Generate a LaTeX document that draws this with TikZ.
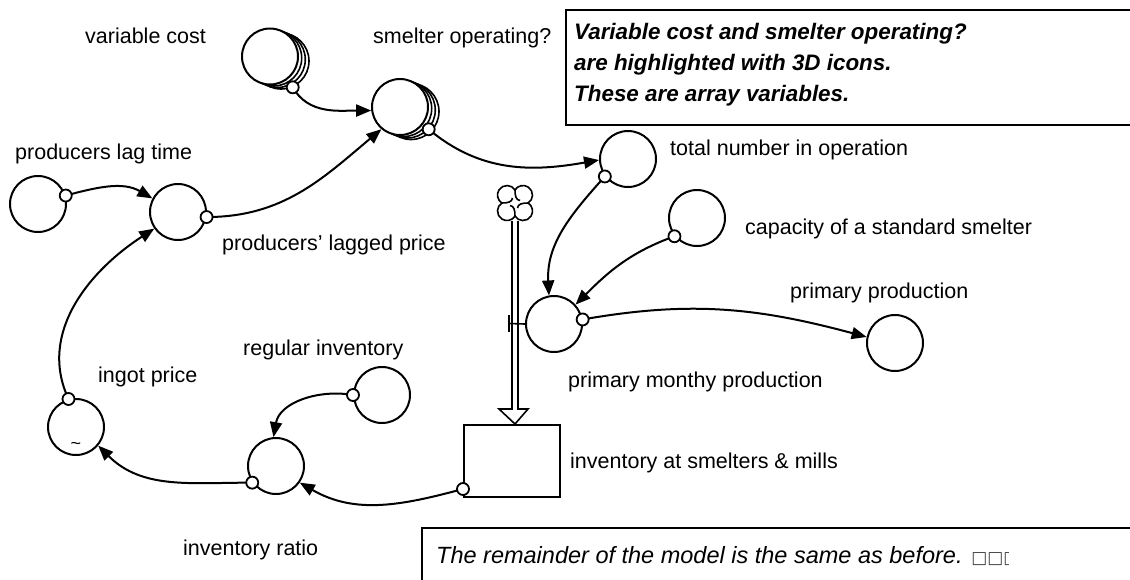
\documentclass[tikz,border=0pt]{standalone}
\usepackage{fontspec}
\setmainfont{Liberation Sans}
\newfontfamily\symfont{DejaVu Sans}
\usetikzlibrary{arrows.meta,calc}

\begin{document}
\begin{tikzpicture}[x=1pt,y=-1pt,
  every node/.style={font=\fontsize{21.5}{26}\selectfont},
  conv/.style={circle,draw,line width=2pt,minimum size=56pt,inner sep=0pt,fill=white},
  ghost/.style={circle,draw,line width=1.6pt,minimum size=56pt,inner sep=0pt,fill=white},
  lbl/.style={anchor=base west,inner sep=0pt},
  note/.style={lbl,font=\fontsize{22.4}{26}\selectfont\bfseries\itshape},
  link/.style={line width=2pt,-{Triangle[length=15pt,width=12pt]}},
  tap/.style={circle,draw,line width=1.8pt,fill=white,minimum size=12pt,inner sep=0pt},
  pipe/.style={line width=1.6pt},
]
\useasboundingbox (0,0) rectangle (1130,579);

% note boxes (run past the right edge)
\draw[line width=2pt] (566,10) rectangle (1150,125);
\draw[line width=2pt] (422,528) rectangle (1150,600);
\node[note] (note1) at (574,39)  {Variable cost and smelter operating?};
\node[note] (note2) at (574,70)  {are highlighted with 3D icons.};
\node[note] (note3) at (574,101) {These are array variables.};
\begin{scope}
  \clip (424,530) rectangle (1008,579);
  \node[lbl,font=\fontsize{23.5}{28}\selectfont\itshape] (note4) at (436,563)
    {The remainder of the model is the same as before. {\symfont\fontsize{17}{17}\selectfont\color{black!75}□□□}};
\end{scope}

% array converters (stacked copies behind the front circle)
\node[ghost] (vcC) at (281,61) {};
\node[ghost] (vcB) at (277.3,59.5) {};
\node[ghost] (vcA) at (273.7,58) {};
\node[conv]  (vc)  at (270,56.5) {};
\node[ghost] (smC) at (411,111.5) {};
\node[ghost] (smB) at (407.3,110) {};
\node[ghost] (smA) at (403.7,108.5) {};
\node[conv]  (sm)  at (400,107) {};

% converters
\node[conv] (lt)  at (38,204) {};
\node[conv] (lp)  at (178,212) {};
\node[conv] (tot) at (628,159) {};
\node[conv] (cap) at (697,218) {};
\node[conv] (pmp) at (554,324) {};
\node[conv] (pp)  at (895,343) {};
\node[conv] (ri)  at (382,395) {};
\node[conv] (ig)  at (76,427) {};
\node[conv] (ir)  at (276,466) {};
\node[inner sep=0pt,font=\fontsize{18}{18}\selectfont] (tilde) at (76,446) {\textasciitilde};

% stock
\node[draw,line width=2pt,minimum width=96pt,minimum height=72pt,inner sep=0pt] (inv) at (512,461) {};
\coordinate (invtap) at (463,489);

% source cloud: four lobes with a pinwheel of inner curls
\node[minimum size=36pt,inner sep=0pt] (cloud) at (515,203) {};
\begin{scope}[shift={(cloud)},x=1pt,y=1pt,line width=1.6pt]
  \draw[fill=white] (0,13.1) arc[start angle=147.4,end angle=-57.4,radius=9.5pt]
    arc[start angle=57.4,end angle=-147.4,radius=9.5pt]
    arc[start angle=-32.6,end angle=-237.4,radius=9.5pt]
    arc[start angle=237.4,end angle=32.6,radius=9.5pt] -- cycle;
  \foreach \a in {0,90,180,270}
    \draw[rotate=\a] (0,13.1) .. controls (0,7) and (1,3) .. (5,2.5);
\end{scope}

% flow pipe into the stock
\draw[pipe] ($(cloud)+(-3,18)$) -- ($(inv.north)+(0,-15)$) -- ($(inv.north)+(-13,-15)$)
  -- ($(inv.north)+(3,0)$) -- ($(inv.north)+(16,-15)$) -- ($(inv.north)+(6,-15)$) -- ($(cloud)+(3,18)$);
% hook from the flow to primary monthy production
\draw[pipe] (509,315) -- (509,332);
\draw[pipe] (509,323.5) -- (pmp.west);

% connectors
\draw[link] (lt.17)  to[out=15,in=150]   (lp.152);
\draw[link] (lp.-10) to[out=0,in=220]    (sm.230);
\draw[link] (vcC.-66) to[out=-60,in=180] (sm.187);
\draw[link] (smB.-42) to[out=-40,in=190] (tot.182);
\draw[link] (tot.217) to[out=228,in=93]  (pmp.100);
\draw[link] (cap.219) to[out=200,in=45]  (pmp.42);
\draw[link] (pmp.9)  to[out=10,in=165]   (pp.168);
\draw[link] (ri.180) to[out=170,in=80]   (ir.95);
\draw[link] (invtap) to[out=195,in=-30]  (ir.-35);
\draw[link] (ir.215) to[out=180,in=-45]  (ig.-40);
\draw[link] (ig.105) to[out=115,in=213]  (lp.215);

% connector origins
\node[tap] (t1)  at (lt.17)   {};
\node[tap] (t2)  at (lp.-10)  {};
\node[tap] (t3)  at (vcC.-66) {};
\node[tap] (t4)  at (smB.-42) {};
\node[tap] (t5)  at (tot.217) {};
\node[tap] (t6)  at (cap.219) {};
\node[tap] (t7)  at (pmp.9)   {};
\node[tap] (t8)  at (ri.180)  {};
\node[tap] (t9)  at (invtap)  {};
\node[tap] (t10) at (ir.215)  {};
\node[tap] (t11) at (ig.105)  {};

% labels
\node[lbl] (l1)  at (85,43)   {variable cost};
\node[lbl] (l2)  at (373,43)  {smelter operating?};
\node[lbl] (l3)  at (15,159)  {producers lag time};
\node[lbl] (l4)  at (222,250) {producers' lagged price};
\node[lbl] (l5)  at (670,155) {total number in operation};
\node[lbl] (l6)  at (745,234) {capacity of a standard smelter};
\node[lbl] (l7)  at (790,298) {primary production};
\node[lbl] (l8)  at (568,387) {primary monthy production};
\node[lbl] (l9)  at (243,355) {regular inventory};
\node[lbl] (l10) at (98,382)  {ingot price};
\node[lbl] (l11) at (570,468) {inventory at smelters \& mills};
\node[lbl] (l12) at (183,555) {inventory ratio};
\end{tikzpicture}
\end{document}
